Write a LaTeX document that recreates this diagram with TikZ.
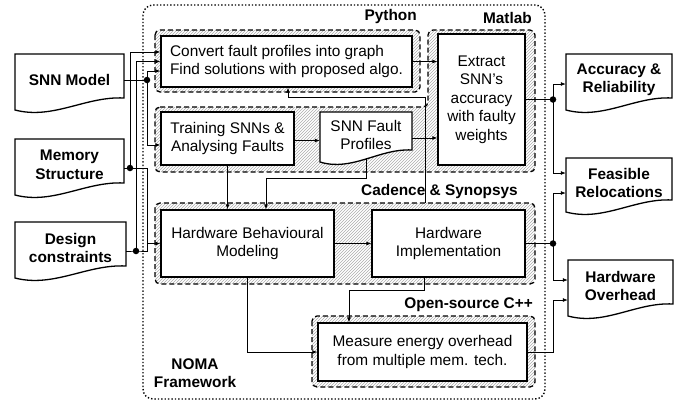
\documentclass[tikz,border=0pt]{standalone}
\usepackage{fontspec}
\setmainfont{Liberation Sans}
\usetikzlibrary{patterns,calc,arrows.meta}

\newcommand\docnode[7]{%
  \path[draw,line width=1.3pt,fill=white]
    ({#3-#5/2},{#4-#6/2}) -- ({#3-#5/2},{#4+#6/2+4})
    .. controls ({#3-#5/2+0.35*#5},{#4+#6/2+14}) and ({#3-#5/2+0.65*#5},{#4+#6/2-10}) ..
    ({#3+#5/2},{#4+#6/2-8}) -- ({#3+#5/2},{#4-#6/2}) -- cycle;
  \node[#1,minimum width=#5pt,minimum height=#6pt] (#2) at (#3,#4) {#7};}

\begin{document}
\begin{tikzpicture}[x=1pt,y=-1pt,
  font=\fontsize{15.4}{18.5}\selectfont,
  box/.style={draw,line width=1.3pt,fill=white,inner sep=0pt,align=center},
  docn/.style={inner sep=0pt,align=center},
  docb/.style={inner sep=0pt,align=center,font=\fontsize{15.4}{18.5}\selectfont\bfseries},
  grp/.style={draw,dash pattern=on 5pt off 3pt,line width=1.3pt,rounded corners=5pt,pattern=north east lines,pattern color=gray!65},
  lbl/.style={font=\fontsize{15.4}{18.5}\selectfont\bfseries,inner sep=0pt},
  conn/.style={line width=0.8pt},
  arr/.style={conn,-{Latex[length=5pt,width=4pt]}},
  dot/.style={circle,fill,inner sep=0pt,minimum size=6.5pt}
]
\useasboundingbox (0,0) rectangle (694,405);

% framework border
\draw[dotted,line width=1.4pt,rounded corners=10pt] (143,5) rectangle (545,399);

% groups
\draw[grp] (155,30) rectangle (420,92);
\draw[grp] (155,107) -- (428,107) -- (428,30) -- (535,30) -- (535,172) -- (155,172) -- cycle;
\draw[grp] (155,203) rectangle (535,284);
\draw[grp] (312,316) rectangle (535,387);

% group labels
\node[lbl,anchor=east] (lpy) at (417,17) {Python};
\node[lbl,anchor=east] (lml) at (532,18) {Matlab};
\node[lbl,anchor=east] (lcad) at (518,192) {Cadence \& Synopsys};
\node[lbl,anchor=east] (los) at (533,305) {Open-source C++};
\node[lbl,align=center] (lnoma) at (195,373) {NOMA\\Framework};

% boxes
\node[box,minimum width=251pt,minimum height=51pt,align=left] (conv) at (286.5,61.5)
  {Convert fault profiles into graph\\Find solutions with proposed algo.};
\node[box,minimum width=87pt,minimum height=131pt] (ext) at (481.5,99.5)
  {Extract\\SNN's\\accuracy\\with faulty\\weights};
\node[box,minimum width=133pt,minimum height=53pt] (train) at (227.5,138.5)
  {Training SNNs \&\\Analysing Faults};
\node[box,minimum width=173pt,minimum height=67pt] (hbm) at (247.5,243.5)
  {Hardware Behavioural\\Modeling};
\node[box,minimum width=153pt,minimum height=67pt] (hi) at (448.5,243.5)
  {Hardware\\Implementation};
\node[box,minimum width=209pt,minimum height=58pt] (meas) at (422.5,352)
  {Measure energy overhead\\from multiple mem. tech.};

% document shapes
\docnode{docn}{sfp}{366}{135}{92}{46}{SNN Fault\\Profiles}
\docnode{docb}{snn}{69.5}{80}{109}{52}{SNN Model}
\docnode{docb}{mem}{69.5}{165}{109}{52}{Memory\\Structure}
\docnode{docb}{des}{70.5}{248}{111}{52}{Design\\constraints}
\docnode{docb}{acc}{619}{80}{106}{52}{Accuracy \&\\Reliability}
\docnode{docb}{feas}{619}{183}{106}{50}{Feasible\\Relocations}
\docnode{docb}{hwo}{620.5}{286}{105}{52}{Hardware\\Overhead}

% bus coordinates
\coordinate (bA) at (130,0);
\coordinate (bB) at (136,0);
\coordinate (bC) at (147,0);
\coordinate (bR) at (553,0);

% inputs
\node[dot] (dS) at (snn.east -| bC) {};
\draw[conn] (snn.east) -- (dS.center);
\draw[arr] (dS.center) |- ($(conv.west)+(0,9.5)$);
\draw[arr] (dS.center) |- ($(train.west)+(0,6.5)$);

\node[dot] (dM) at ($(mem.east -| bA)+(0,3)$) {};
\draw[conn] ($(mem.east)+(0,3)$) -- (dM.center);
\draw[arr] (dM.center) |- ($(conv.west)+(0,-9.5)$);
\draw[arr] (dM.center) -| (hbm.west -| bC) -- (hbm.west);

\node[dot] (dD) at ($(des.east -| bB)+(0,3)$) {};
\draw[conn] ($(des.east)+(0,3)$) -- (dD.center) -| (hbm.west -| bC);
\draw[arr] (dD.center) |- (conv.west);

% outputs
\node[dot] (dE) at (ext.east -| bR) {};
\draw[conn] (ext.east) -- (dE.center);
\draw[arr] (dE.center) |- ($(acc.west)+(0,4)$);
\draw[arr] (dE.center) |- ($(feas.west)+(0,-10)$);

\node[dot] (dH) at (hi.east -| bR) {};
\draw[conn] (hi.east) -- (dH.center);
\draw[arr] (dH.center) |- ($(feas.west)+(0,10)$);
\draw[arr] (dH.center) |- ($(hwo.west)+(0,-6)$);
\draw[arr] (meas.east) -| ($(hwo.west -| bR)+(0,14)$) -- ($(hwo.west)+(0,14)$);

% internal
\draw[arr] (conv.east) -- (conv.east -| ext.west);
\draw[arr] ($(train.east)+(0,2)$) -- ($(train.east -| sfp.west)+(0,2)$);
\draw[arr] ($(sfp.east)+(0,3)$) -- ($(sfp.east -| ext.west)+(0,3)$);

\coordinate (fbA) at (425,203);
\coordinate (fbB) at (288,97);
\draw[arr] (fbA) |- (fbB) -- (fbB |- conv.south);

\coordinate (sfT) at (266,178);
\draw[arr] ($(sfp.south)+(0,1)$) |- (sfT) -- (sfT |- hbm.north);

\draw[arr] (train.south) -- (train.south |- hbm.north);
\draw[arr] (hbm.east) -- (hi.west);

\coordinate (hiT) at (349,290);
\draw[arr] ($(hi.south west)+(53,0)$) |- (hiT) -- (hiT |- meas.north);

\draw[arr] (hbm.south) |- (meas.west);
\end{tikzpicture}
\end{document}
